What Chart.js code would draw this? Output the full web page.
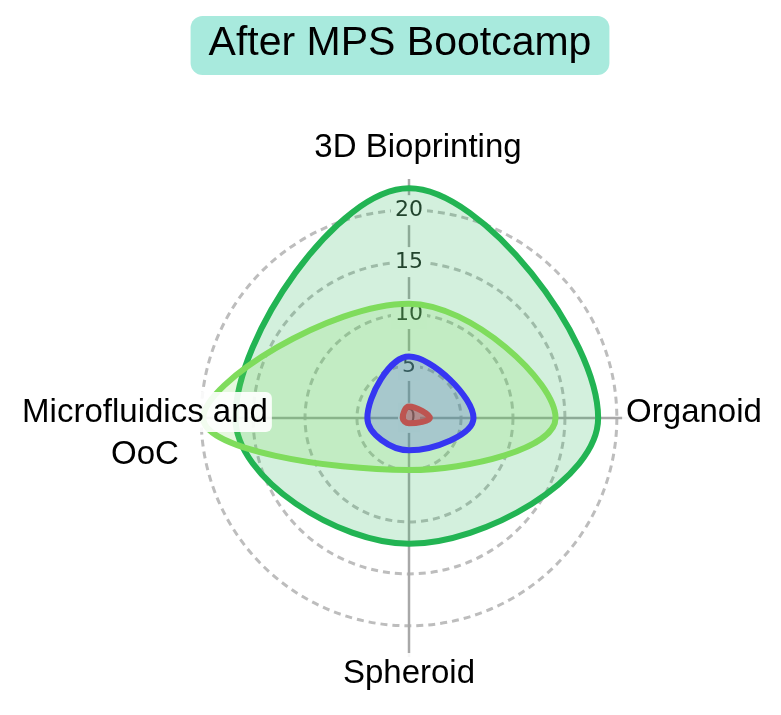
<!DOCTYPE html>
<html>
<head>
<meta charset="utf-8">
<script src="https://cdn.jsdelivr.net/npm/chart.js@4.4.1/dist/chart.umd.min.js"></script>
<style>
  html, body { margin: 0; padding: 0; background: #fff; }
  #wrap { width: 781px; height: 715px; position: relative; }
</style>
</head>
<body>
<div id="wrap"><canvas id="radar"></canvas></div>
<script>
var chartTitle = 'After MPS Bootcamp';
var categories = ['3D Bioprinting', 'Organoid', 'Spheroid', ['Microfluidics and', 'OoC']];
var tickValues = [0, 5, 10, 15, 20];

// one array per group, same order as categories
var darkGreenValues = [22.1, 18.2, 12.1, 16.7];
var lightGreenValues = [11.0, 14.1, 5.0, 19.8];
var blueValues = [5.9, 6.2, 3.1, 4.0];
var redValues = [1.1, 2.0, 0.5, 0.6];

// label placement (distance from centre, small nudges)
var labelDist = [271, 285, 255, 264];
var labelDx = [9, 0, 0, 0];
var labelDy = [0, -6, 0, 15];
var labelFont = '33px "Liberation Sans", Arial, sans-serif';
var labelLineHeight = 42;

// draws the category names on top of the data, with a white backdrop
var pointLabelPlugin = {
    id: 'pointLabelsOnTop',
    afterDatasetsDraw: function(chart) {
        var scale = chart.scales.r;
        var ctx = chart.ctx;
        ctx.save();
        ctx.font = labelFont;
        ctx.textAlign = 'center';
        ctx.textBaseline = 'middle';
        for (var i = 0; i < chart.data.labels.length; i++) {
            var lines = [].concat(chart.data.labels[i]);
            var pos = scale.getPointPosition(i, labelDist[i]);
            var cx = pos.x + labelDx[i];
            var cy = pos.y + labelDy[i];
            var firstY = cy - (lines.length - 1) * labelLineHeight / 2;
            for (var j = 0; j < lines.length; j++) {
                var y = firstY + j * labelLineHeight;
                var w = ctx.measureText(lines[j]).width;
                ctx.fillStyle = 'rgba(255,255,255,0.9)';
                ctx.beginPath();
                ctx.roundRect(cx - w / 2 - 4, y - 20, w + 8, 40, 6);
                ctx.fill();
                ctx.fillStyle = '#000';
                ctx.fillText(lines[j], cx, y + 1);
            }
        }
        ctx.restore();
    }
};

// title with the rounded mint box behind it
var boxedTitlePlugin = {
    id: 'boxedTitle',
    afterDraw: function(chart) {
        var ctx = chart.ctx;
        ctx.save();
        ctx.font = '41px "Liberation Sans", Arial, sans-serif';
        var w = ctx.measureText(chartTitle).width;
        var cx = 400;
        ctx.fillStyle = '#a8eadd';
        ctx.beginPath();
        ctx.roundRect(cx - w / 2 - 18, 16, w + 36, 59, 12);
        ctx.fill();
        ctx.fillStyle = '#000';
        ctx.textAlign = 'center';
        ctx.textBaseline = 'alphabetic';
        ctx.fillText(chartTitle, cx, 55);
        ctx.restore();
    }
};

function makeSet(label, values, line, fill, order) {
    return {
        label: label,
        data: values,
        borderColor: line,
        backgroundColor: fill,
        borderWidth: 6,
        fill: true,
        tension: 0.4,
        pointRadius: 0,
        order: order
    };
}

var ctx = document.getElementById('radar').getContext('2d');
var chart = new Chart(ctx, {
    type: 'radar',
    data: {
        labels: categories,
        datasets: [
            makeSet('Group 1', darkGreenValues, '#22b453', 'rgba(34,180,83,0.2)', 4),
            makeSet('Group 2', lightGreenValues, '#7fdc5c', 'rgba(127,220,92,0.2)', 3),
            makeSet('Group 3', blueValues, '#3636f2', 'rgba(54,54,242,0.2)', 2),
            makeSet('Group 4', redValues, '#bd5450', 'rgba(189,84,80,0.5)', 1)
        ]
    },
    options: {
        responsive: true,
        maintainAspectRatio: false,
        animation: false,
        layout: {
            padding: { left: 155, right: 118, top: 164, bottom: 43 }
        },
        plugins: {
            legend: { display: false },
            tooltip: { enabled: false },
            title: { display: false }
        },
        scales: {
            r: {
                min: -0.01,
                max: 23,
                afterBuildTicks: function(scale) {
                    scale.ticks = tickValues.map(function(v) { return { value: v }; });
                },
                ticks: {
                    stepSize: 5,
                    color: '#222824',
                    font: { family: '"DejaVu Sans"', size: 22 },
                    showLabelBackdrop: true,
                    backdropColor: '#ffffff',
                    backdropPadding: 4
                },
                grid: {
                    circular: true,
                    lineWidth: 3,
                    color: function(c) {
                        return c.tick && c.tick.value === 0 ? 'rgba(0,0,0,0)' : '#bdbdbd';
                    }
                },
                border: { dash: [7, 5] },
                angleLines: {
                    display: true,
                    color: '#a8a8a8',
                    lineWidth: 2.5
                },
                pointLabels: { display: false }
            }
        }
    },
    plugins: [pointLabelPlugin, boxedTitlePlugin]
});
</script>
</body>
</html>
